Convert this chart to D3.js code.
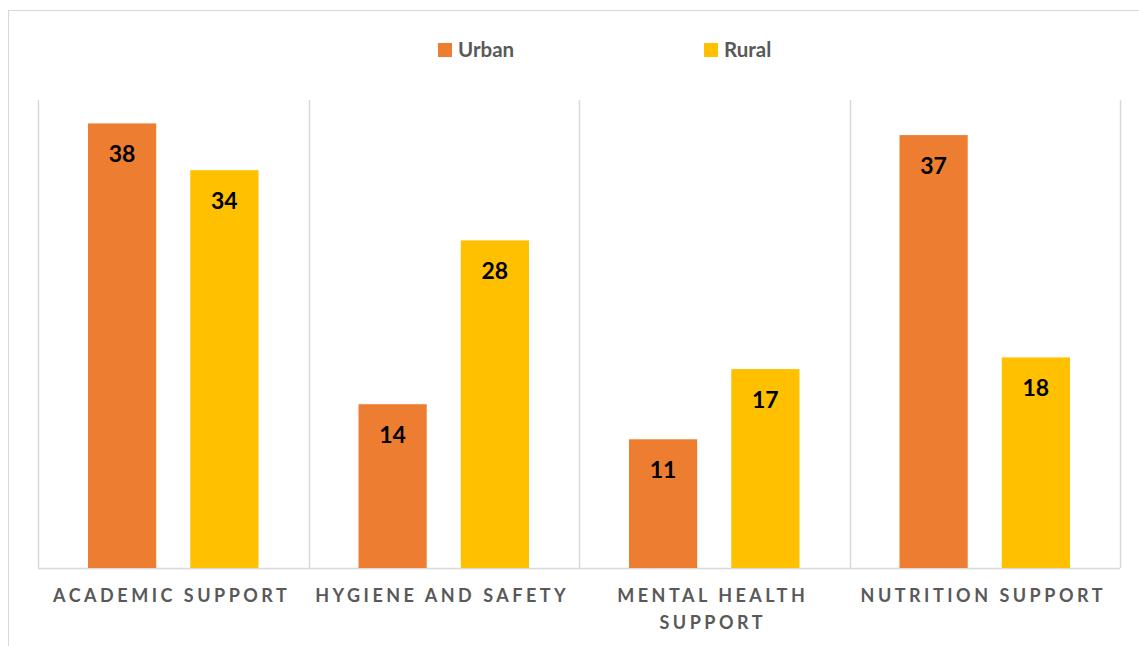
<!DOCTYPE html>
<html>
<head>
<meta charset="utf-8">
<script src="https://cdn.jsdelivr.net/npm/d3@7"></script>
<style>
  body { margin: 0; background: #fff; }
  svg { display: block; font-family: Lato, "Open Sans", sans-serif; }
</style>
</head>
<body>
<div id="chart-container"></div>
<script>
// Chart data
const categories = ["ACADEMIC SUPPORT", "HYGIENE AND SAFETY", "MENTAL HEALTH SUPPORT", "NUTRITION SUPPORT"];
const seriesNames = ["Urban", "Rural"];
const urbanValues = [38, 14, 11, 37];
const ruralValues = [34, 28, 17, 18];
const colors = { Urban: "#ED7D31", Rural: "#FFC000" };

const W = 1139, H = 646;
const margin = { top: 100, right: 19, bottom: 78, left: 38 };
const width = W - margin.left - margin.right;
const height = H - margin.top - margin.bottom;

const svg = d3.select("#chart-container")
  .append("svg")
  .attr("width", W)
  .attr("height", H);

// Outer chart frame (cropped at right/bottom like the reference)
svg.append("rect")
  .attr("x", 8.5).attr("y", 10.5)
  .attr("width", W + 20).attr("height", H + 20)
  .attr("fill", "none")
  .attr("stroke", "#d9d9d9");

const g = svg.append("g")
  .attr("transform", `translate(${margin.left},${margin.top})`);

const x0 = d3.scaleBand().domain(categories).range([0, width]);
// bars sit 50px in from each separator, 34px apart
const x1 = d3.scaleBand().domain(seriesNames)
  .range([50, x0.bandwidth() - 50])
  .paddingInner(0.333).paddingOuter(0);
const y = d3.scaleLinear().domain([0, 40]).range([height, 0]);

// Category separators
const seps = categories.map(c => x0(c)).concat([width]);
g.selectAll("line.sep")
  .data(seps)
  .join("line")
  .attr("class", "sep")
  .attr("x1", d => Math.round(d) + 0.5).attr("x2", d => Math.round(d) + 0.5)
  .attr("y1", 0).attr("y2", height)
  .attr("stroke", "#d9d9d9").attr("stroke-width", 1.5);

// Baseline
g.append("line")
  .attr("x1", 0).attr("x2", width)
  .attr("y1", height + 0.5).attr("y2", height + 0.5)
  .attr("stroke", "#d9d9d9").attr("stroke-width", 1.5);

const rows = categories.map((c, i) => ({ cat: c, Urban: urbanValues[i], Rural: ruralValues[i] }));

const groups = g.selectAll("g.cat")
  .data(rows)
  .join("g")
  .attr("class", "cat")
  .attr("transform", d => `translate(${x0(d.cat)},0)`);

groups.selectAll("rect")
  .data(d => seriesNames.map(s => ({ s, v: d[s] })))
  .join("rect")
  .attr("x", d => x1(d.s))
  .attr("y", d => y(d.v))
  .attr("width", x1.bandwidth())
  .attr("height", d => height - y(d.v))
  .attr("fill", d => colors[d.s]);

groups.selectAll("text.val")
  .data(d => seriesNames.map(s => ({ s, v: d[s] })))
  .join("text")
  .attr("class", "val")
  .attr("x", d => x1(d.s) + x1.bandwidth() / 2)
  .attr("y", d => y(d.v) + 39)
  .attr("text-anchor", "middle")
  .style("font-size", "23px")
  .style("font-weight", "bold")
  .style("fill", "#000")
  .text(d => d.v);

// Category labels (wrapped to fit the band)
const labelWrap = {
  "MENTAL HEALTH SUPPORT": ["MENTAL HEALTH", "SUPPORT"]
};
groups.each(function(d) {
  const lines = labelWrap[d.cat] || [d.cat];
  const t = d3.select(this).append("text")
    .attr("x", x0.bandwidth() / 2)
    .attr("y", height + 34)
    .attr("text-anchor", "middle")
    .style("font-size", "18px")
    .style("font-weight", "bold")
    .style("letter-spacing", "3.5px")
    .style("fill", "#595959");
  lines.forEach((ln, i) => {
    t.append("tspan")
      .attr("x", x0.bandwidth() / 2 - 1.5)
      .attr("dy", i === 0 ? 0 : 27)
      .text(ln);
  });
});

// Legend
const legendX = [438, 704];
const legend = svg.selectAll("g.legend")
  .data(seriesNames)
  .join("g")
  .attr("class", "legend")
  .attr("transform", (d, i) => `translate(${legendX[i]},43)`);
legend.append("rect")
  .attr("width", 14).attr("height", 14)
  .attr("fill", d => colors[d]);
legend.append("text")
  .attr("x", 20).attr("y", 14)
  .style("font-size", "20.5px")
  .style("font-weight", "bold")
  .style("fill", "#595959")
  .text(d => d);
</script>
</body>
</html>
